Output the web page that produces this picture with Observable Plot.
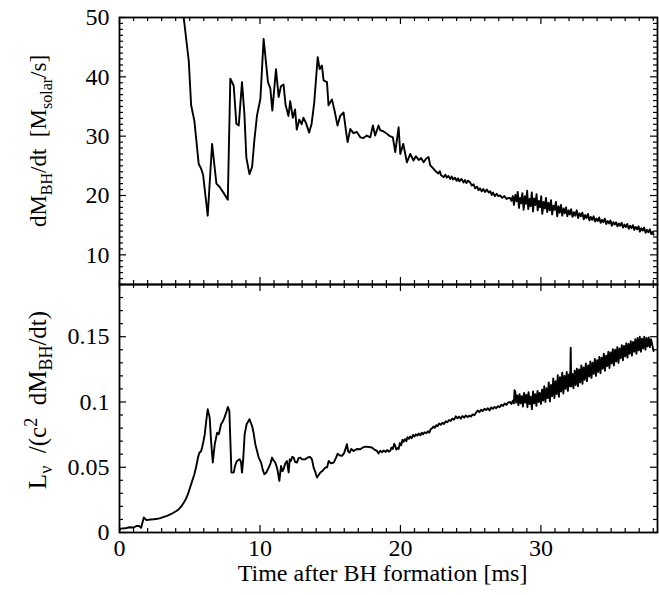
<!DOCTYPE html>
<html><head><meta charset="utf-8">
<script src="https://cdn.jsdelivr.net/npm/d3@7"></script>
<script src="https://cdn.jsdelivr.net/npm/@observablehq/plot@0.6"></script>
<style>
html,body{margin:0;padding:0;background:#fff;}
#chart{width:659px;height:595px;position:relative;}
#chart svg{display:block;overflow:visible;}
</style></head><body><div id="chart"></div>
<script>
// ---- data: [time ms, value] ----
const rateSeries = [
[4.30,55.5],[4.57,50.0],[4.93,42.7],[5.10,35.2],[5.33,32.6],[5.64,25.3],[5.80,24.6],[5.95,23.5],[6.28,16.6],[6.59,28.7],
[6.90,22.0],[7.14,21.4],[7.42,20.4],[7.71,19.3],[7.89,39.7],[8.13,38.5],[8.32,32.1],[8.49,31.8],[8.72,39.1],[8.89,33.8],
[9.03,26.4],[9.25,23.6],[9.44,24.8],[9.60,29.3],[9.79,33.5],[10.03,36.3],[10.26,46.4],[10.57,39.1],[10.74,38.0],[10.88,34.3],
[11.14,41.3],[11.33,36.6],[11.49,38.4],[11.68,38.7],[11.82,35.3],[12.03,33.4],[12.15,35.9],[12.34,33.1],[12.50,34.5],[12.62,31.1],
[12.80,32.8],[12.97,32.0],[13.09,33.1],[13.28,32.2],[13.50,30.6],[13.67,32.0],[13.86,35.6],[14.11,43.3],[14.25,41.3],[14.41,41.9],
[14.53,39.4],[14.77,39.1],[14.88,35.2],[15.12,36.2],[15.31,34.3],[15.52,31.8],[15.71,33.4],[15.95,34.0],[16.14,30.6],[16.24,29.0],
[16.43,31.2],[16.66,30.5],[16.90,30.7],[17.14,29.8],[17.37,29.7],[17.61,30.1],[17.85,29.8],[18.04,31.8],[18.20,30.1],[18.44,31.8],
[18.56,31.0],[18.80,30.8],[19.04,30.4],[19.25,30.0],[19.46,29.8],[19.63,27.3],[19.87,31.5],[19.99,27.0],[20.20,28.7],[20.46,25.6],
[20.70,27.0],[20.93,25.9],[21.10,26.6],[21.30,26.0],[21.48,26.3],[21.65,25.6],[21.82,26.2],[22.00,26.5],[22.12,25.1],[22.36,24.5],
[22.55,24.0],[22.70,23.7],[22.80,24.1],[22.90,23.4],[23.07,23.1],[23.20,23.5],[23.30,23.0],[23.42,23.3],[23.55,22.8],[23.65,23.2],
[23.75,22.7],[23.88,23.0],[24.00,22.5],[24.10,22.9],[24.20,22.4],[24.35,22.8],[24.49,22.2],[24.60,22.6],[24.70,22.1],[24.82,22.5],
[24.96,22.2],[25.08,21.7],[25.20,21.9],[25.32,21.2],[25.45,21.5],[25.56,20.9],[25.67,21.2],[25.78,20.7],[25.90,21.1],[26.02,20.6],
[26.15,21.0],[26.28,20.5],[26.40,20.7],[26.50,20.1],[26.60,20.5],[26.72,19.9],[26.85,20.3],[26.97,19.9],[27.10,20.0],[27.25,19.6],
[27.40,19.9],[27.55,19.4],[27.69,19.6],[27.80,19.6],[27.90,19.1],[28.00,19.9],[28.08,18.4],[28.18,20.1],[28.27,19.0],[28.35,20.6],
[28.44,17.9],[28.52,19.6],[28.60,18.7],[28.68,20.4],[28.77,17.6],[28.86,19.9],[28.94,18.6],[29.02,20.8],[29.10,17.7],[29.19,19.4],
[29.27,18.2],[29.35,20.5],[29.44,17.3],[29.52,19.5],[29.60,18.4],[29.69,20.2],[29.77,17.5],[29.86,19.1],[29.94,18.0],[30.02,19.9],
[30.10,16.9],[30.19,18.9],[30.28,17.8],[30.36,19.6],[30.45,17.2],[30.54,18.8],[30.63,17.5],[30.72,19.2],[30.80,16.8],[30.89,18.3],
[30.98,17.6],[31.07,18.9],[31.16,16.5],[31.25,18.2],[31.34,17.1],[31.43,18.4],[31.52,16.6],[31.61,17.8],[31.70,17.0],[31.79,18.0],
[31.88,16.5],[31.97,17.5],[32.06,16.8],[32.15,17.7],[32.25,16.4],[32.35,17.2],[32.45,16.6],[32.55,17.5],[32.65,16.2],[32.75,17.0],
[32.85,16.5],[32.95,17.1],[33.05,16.0],[33.15,16.7],[33.25,16.2],[33.35,16.9],[33.45,15.8],[33.55,16.4],[33.65,15.9],[33.75,16.5],
[33.85,15.6],[33.95,16.1],[34.05,15.7],[34.15,16.3],[34.25,15.4],[34.35,15.9],[34.45,15.5],[34.55,16.1],[34.65,15.2],[34.75,15.7],
[34.85,15.3],[34.95,15.8],[35.05,14.9],[35.15,15.5],[35.25,15.1],[35.35,15.5],[35.45,14.8],[35.55,15.3],[35.65,14.9],[35.75,15.4],
[35.85,14.6],[35.95,15.1],[36.05,14.7],[36.15,15.2],[36.25,14.4],[36.35,14.9],[36.45,14.5],[36.55,15.0],[36.65,14.2],[36.75,14.7],
[36.85,14.3],[36.95,14.8],[37.05,13.9],[37.15,14.5],[37.25,14.1],[37.35,14.6],[37.45,13.7],[37.55,14.2],[37.65,13.8],[37.75,14.3],
[37.85,13.5],[37.95,13.9],[38.02,13.4]
];

const efficiencySeries = [
[0.00,0.0018],[0.07,0.0030],[0.40,0.0032],[0.70,0.0040],[1.02,0.0038],[1.20,0.0050],[1.37,0.0051],[1.54,0.0036],[1.73,0.0115],[1.92,0.0095],
[2.20,0.0100],[2.44,0.0102],[2.70,0.0105],[2.92,0.0110],[3.15,0.0120],[3.39,0.0128],[3.65,0.0140],[3.87,0.0153],[4.05,0.0165],[4.22,0.0179],
[4.40,0.0200],[4.58,0.0230],[4.72,0.0255],[4.86,0.0290],[4.98,0.0330],[5.10,0.0370],[5.22,0.0410],[5.33,0.0446],[5.43,0.0490],[5.52,0.0536],
[5.60,0.0580],[5.69,0.0612],[5.80,0.0620],[5.88,0.0651],[5.98,0.0700],[6.07,0.0753],[6.18,0.0860],[6.28,0.0944],[6.42,0.0880],[6.52,0.0700],
[6.64,0.0536],[6.78,0.0676],[6.95,0.0765],[7.07,0.0753],[7.23,0.0829],[7.35,0.0850],[7.47,0.0880],[7.60,0.0920],[7.71,0.0962],[7.82,0.0932],
[7.97,0.0459],[8.13,0.0459],[8.25,0.0520],[8.36,0.0548],[8.55,0.0561],[8.65,0.0540],[8.72,0.0459],[8.80,0.0550],[8.91,0.0753],[9.05,0.0830],
[9.25,0.0868],[9.44,0.0816],[9.55,0.0760],[9.67,0.0676],[9.80,0.0620],[9.91,0.0574],[10.08,0.0536],[10.20,0.0480],[10.31,0.0446],[10.45,0.0460],
[10.62,0.0497],[10.75,0.0530],[10.86,0.0574],[10.98,0.0550],[11.09,0.0536],[11.20,0.0500],[11.26,0.0472],[11.38,0.0395],[11.50,0.0510],[11.60,0.0470],
[11.68,0.0485],[11.80,0.0530],[11.92,0.0548],[12.04,0.0460],[12.12,0.0560],[12.20,0.0548],[12.30,0.0580],[12.40,0.0574],[12.50,0.0540],[12.63,0.0536],
[12.75,0.0570],[12.87,0.0574],[13.00,0.0560],[13.22,0.0561],[13.40,0.0575],[13.58,0.0579],[13.70,0.0560],[13.82,0.0497],[13.95,0.0460],[14.06,0.0421],
[14.18,0.0440],[14.30,0.0459],[14.48,0.0475],[14.65,0.0497],[14.78,0.0500],[14.89,0.0548],[15.05,0.0530],[15.25,0.0536],[15.40,0.0570],[15.53,0.0604],
[15.70,0.0590],[15.84,0.0587],[16.00,0.0610],[16.19,0.0676],[16.28,0.0620],[16.38,0.0612],[16.50,0.0640],[16.67,0.0625],[16.90,0.0640],[17.14,0.0638],
[17.30,0.0650],[17.50,0.0658],[17.75,0.0655],[17.97,0.0651],[18.15,0.0635],[18.33,0.0625],[18.44,0.0605],[18.56,0.0626],[18.70,0.0615],[18.80,0.0628],
[18.95,0.0618],[19.05,0.0632],[19.18,0.0620],[19.27,0.0626],[19.36,0.0650],[19.45,0.0640],[19.56,0.0680],[19.63,0.0662],[19.70,0.0635],[19.78,0.0648],
[19.87,0.0640],[19.96,0.0685],[20.05,0.0668],[20.14,0.0710],[20.22,0.0695],[20.32,0.0715],[20.42,0.0700],[20.50,0.0730],[20.60,0.0718],[20.70,0.0735],
[20.80,0.0722],[20.90,0.0748],[21.00,0.0735],[21.10,0.0752],[21.20,0.0742],[21.30,0.0758],[21.42,0.0745],[21.52,0.0765],[21.62,0.0752],[21.72,0.0768],
[21.85,0.0760],[21.95,0.0775],[22.05,0.0765],[22.15,0.0790],[22.25,0.0798],[22.35,0.0812],[22.45,0.0802],[22.55,0.0822],[22.65,0.0815],[22.75,0.0835],
[22.87,0.0825],[22.98,0.0840],[23.10,0.0832],[23.22,0.0852],[23.34,0.0845],[23.46,0.0862],[23.58,0.0855],[23.70,0.0872],[23.82,0.0865],[23.94,0.0890],
[24.06,0.0875],[24.18,0.0888],[24.30,0.0872],[24.42,0.0892],[24.54,0.0880],[24.66,0.0897],[24.78,0.0884],[24.90,0.0895],[25.02,0.0888],[25.14,0.0905],
[25.26,0.0898],[25.38,0.0918],[25.50,0.0935],[25.62,0.0922],[25.74,0.0940],[25.86,0.0930],[25.98,0.0948],[26.10,0.0938],[26.22,0.0952],[26.34,0.0935],
[26.46,0.0958],[26.58,0.0948],[26.70,0.0962],[26.82,0.0952],[26.94,0.0968],[27.06,0.0960],[27.18,0.0978],[27.30,0.0970],[27.42,0.0988],[27.54,0.0978],
[27.66,0.0995],[27.80,0.1000],[27.90,0.0985],[28.00,0.1010],[28.08,0.0990],[28.12,0.1090],[28.18,0.1075],[28.24,0.0995],[28.32,0.1050],[28.40,0.0975],
[28.48,0.1060],[28.56,0.0990],[28.64,0.1045],[28.72,0.0965],[28.80,0.1070],[28.88,0.0995],[28.96,0.1055],[29.04,0.0960],[29.12,0.1075],[29.20,0.0985],
[29.28,0.1040],[29.36,0.0945],[29.44,0.1080],[29.52,0.0990],[29.60,0.1060],[29.68,0.0970],[29.76,0.1085],[29.84,0.1000],[29.92,0.1070],[30.00,0.0985],
[30.08,0.1095],[30.16,0.1010],[30.24,0.1120],[30.32,0.1000],[30.40,0.1105],[30.48,0.1030],[30.56,0.1150],[30.64,0.1005],[30.72,0.1130],[30.80,0.1045],
[30.88,0.1180],[30.96,0.1030],[31.04,0.1160],[31.12,0.1060],[31.20,0.1205],[31.28,0.1040],[31.36,0.1190],[31.44,0.1080],[31.52,0.1225],[31.60,0.1065],
[31.68,0.1200],[31.76,0.1100],[31.84,0.1230],[31.92,0.1085],[32.00,0.1210],[32.08,0.1120],[32.12,0.1415],[32.16,0.1120],[32.24,0.1215],[32.32,0.1105],
[32.40,0.1240],[32.48,0.1130],[32.56,0.1255],[32.64,0.1120],[32.72,0.1250],[32.80,0.1150],[32.88,0.1280],[32.96,0.1140],[33.04,0.1265],[33.12,0.1170],
[33.20,0.1295],[33.28,0.1160],[33.36,0.1280],[33.44,0.1195],[33.52,0.1310],[33.60,0.1185],[33.68,0.1300],[33.76,0.1215],[33.84,0.1330],[33.92,0.1200],
[34.00,0.1320],[34.08,0.1230],[34.16,0.1345],[34.24,0.1220],[34.32,0.1340],[34.40,0.1255],[34.48,0.1370],[34.56,0.1240],[34.64,0.1355],[34.72,0.1275],
[34.80,0.1385],[34.88,0.1260],[34.96,0.1380],[35.04,0.1295],[35.12,0.1405],[35.20,0.1280],[35.28,0.1400],[35.36,0.1310],[35.44,0.1420],[35.52,0.1300],
[35.60,0.1410],[35.68,0.1335],[35.76,0.1435],[35.84,0.1320],[35.92,0.1430],[36.00,0.1350],[36.08,0.1450],[36.16,0.1340],[36.24,0.1445],[36.32,0.1370],
[36.40,0.1465],[36.48,0.1355],[36.56,0.1460],[36.64,0.1385],[36.72,0.1480],[36.80,0.1370],[36.88,0.1490],[36.96,0.1395],[37.04,0.1500],[37.12,0.1385],
[37.20,0.1485],[37.28,0.1410],[37.36,0.1500],[37.44,0.1400],[37.52,0.1490],[37.60,0.1425],[37.68,0.1495],[37.76,0.1420],[37.84,0.1480],[37.92,0.1440],
[38.02,0.1390]
];

const xDomain = [0, 38.3];
const rateDomain = [5, 50];
const effDomain = [0, 0.19];
const xTicks = [0, 10, 20, 30];
const rateTicks = [10, 20, 30, 40, 50];
const effTicks = [0, 0.05, 0.1, 0.15];
const xLabel = "Time after BH formation [ms]";

// ---- layout ----
const W = 659, ML = 119, MR = 2;
const FW = W - ML - MR;
const FONT = "'Liberation Serif', 'Times New Roman', Times, serif";
const FS = 24;
const MAJ = 7, MIN = 4;

const xMinor = d3.range(1, 39).filter(d => d % 10 !== 0);
const rateMinor = d3.range(5, 51).filter(d => d % 10 !== 0);
const effMinor = d3.range(1, 20).filter(d => d % 5 !== 0).map(d => d / 100);

function tickMarks(FH, yMaj, yMin) {
  const sw = 1.2;
  return [
    Plot.tickX(xTicks, {x: d => d, insetTop: FH - MAJ, strokeWidth: sw}),
    Plot.tickX(xTicks, {x: d => d, insetBottom: FH - MAJ, strokeWidth: sw}),
    Plot.tickX(xMinor, {x: d => d, insetTop: FH - MIN, strokeWidth: sw}),
    Plot.tickX(xMinor, {x: d => d, insetBottom: FH - MIN, strokeWidth: sw}),
    Plot.tickY(yMaj, {y: d => d, insetRight: FW - MAJ, strokeWidth: sw}),
    Plot.tickY(yMaj, {y: d => d, insetLeft: FW - MAJ, strokeWidth: sw}),
    Plot.tickY(yMin, {y: d => d, insetRight: FW - MIN, strokeWidth: sw}),
    Plot.tickY(yMin, {y: d => d, insetLeft: FW - MIN, strokeWidth: sw})
  ];
}

const style = {fontFamily: FONT, fontSize: FS + "px", color: "black", background: "transparent", overflow: "visible"};
const textOpts = {fontFamily: FONT, fontSize: FS, fill: "black"};

const rateData = rateSeries.map(([t, v]) => ({t, v}));
const effData = efficiencySeries.map(([t, v]) => ({t, v}));

const TOP_H = 284, TOP_MT = 17;
const topPlot = Plot.plot({
  width: W, height: TOP_H, marginTop: TOP_MT, marginBottom: 0, marginLeft: ML, marginRight: MR,
  style,
  x: {domain: xDomain, axis: null},
  y: {domain: rateDomain},
  marks: [
    Plot.line(rateData, {x: "t", y: "v", stroke: "black", strokeWidth: 1.9, clip: true}),
    ...tickMarks(TOP_H - TOP_MT, rateTicks, rateMinor),
    Plot.axisY(rateTicks, {anchor: "left", tickSize: 0, tickPadding: 10, label: null, ...textOpts}),
    Plot.frame({stroke: "black", strokeWidth: 1.8})
  ]
});

const BOT_H = 595 - TOP_H, BOT_MB = 63;
const botPlot = Plot.plot({
  width: W, height: BOT_H, marginTop: 0, marginBottom: BOT_MB, marginLeft: ML, marginRight: MR,
  style,
  x: {domain: xDomain},
  y: {domain: effDomain},
  marks: [
    Plot.line(effData, {x: "t", y: "v", stroke: "black", strokeWidth: 1.9, clip: true}),
    ...tickMarks(BOT_H - BOT_MB, effTicks, effMinor),
    Plot.axisX(xTicks, {anchor: "bottom", tickSize: 0, tickPadding: 6, label: null, ...textOpts}),
    Plot.axisY(effTicks, {anchor: "left", tickSize: 0, tickPadding: 10, label: null, tickFormat: d => String(d), ...textOpts}),
    Plot.text([xLabel], {text: d => d, frameAnchor: "bottom", dy: 48, dx: -6, ...textOpts}),
    Plot.frame({stroke: "black", strokeWidth: 1.8})
  ]
});

// rotated y labels with sub/superscripts (real text)
function richLabel(svg, parts, x, y, size, subSize) {
  const t = d3.select(svg).append("text")
    .attr("transform", `translate(${x},${y}) rotate(-90)`)
    .attr("text-anchor", "middle")
    .attr("font-family", FONT)
    .attr("font-size", size)
    .attr("fill", "black");
  let shift = 0;
  for (const [s, kind] of parts) {
    const target = kind === "sub" ? 6 : kind === "sup" ? -9 : 0;
    t.append("tspan")
      .attr("dy", target - shift)
      .attr("font-size", kind ? subSize : size)
      .text(s);
    shift = target;
  }
}
richLabel(topPlot, [["dM"], ["BH", "sub"], ["/dt\u00a0\u00a0[M"], ["solar", "sub"], ["/s]"]], 46, 141, 23, 16);
richLabel(botPlot, [["L"], ["\u03bd", "sub"], ["\u00a0\u00a0/(c"], ["2", "sup"], ["\u00a0\u00a0dM"], ["BH", "sub"], ["/dt)"]], 46, 400 - TOP_H, 25, 18);

const chart = document.getElementById("chart");
chart.appendChild(topPlot);
chart.appendChild(botPlot);
</script></body></html>
